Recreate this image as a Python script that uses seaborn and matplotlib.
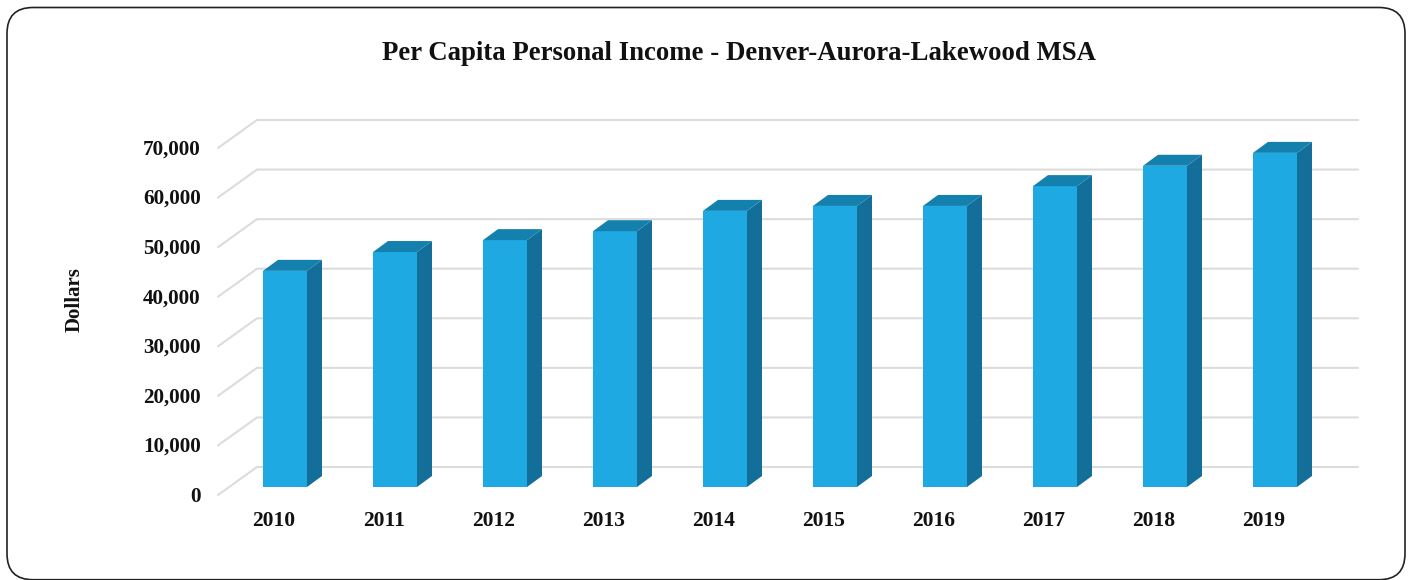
import matplotlib
matplotlib.use("Agg")
import matplotlib.pyplot as plt
import matplotlib.transforms as mtransforms
from matplotlib.patches import FancyBboxPatch, Polygon
import pandas as pd
import seaborn as sns

years = ["2010", "2011", "2012", "2013", "2014", "2015", "2016", "2017", "2018", "2019"]
income = [43600, 47400, 49800, 51600, 55700, 56700, 56700, 60700, 64800, 67400]
y_ticks = [0, 10000, 20000, 30000, 40000, 50000, 60000, 70000]

FRONT = "#1FA9E2"
SIDE = "#136F99"
TOP = "#1480AD"
GRID = "#DCDCDC"
TEXT = "#111111"
W, H = 1411, 580

sns.set_theme(style="white")
plt.rcParams["font.family"] = ["Liberation Serif", "DejaVu Serif"]
plt.rcParams["font.weight"] = "bold"

df = pd.DataFrame({"year": years, "income": income})

fig = plt.figure(figsize=(W / 100, H / 100), dpi=100, facecolor="white")

# rounded frame round the whole chart, bottom edge sits on the image border
frame = FancyBboxPatch((7, 0.3), 1398, H - 7.8, boxstyle="round,pad=0,rounding_size=26",
                       transform=mtransforms.IdentityTransform(), fc="white", ec="#222222", lw=1.2, zorder=0)
fig.add_artist(frame)

# axes = front plane of the 3d box
ax = fig.add_axes([230 / W, (H - 487) / H, 1100 / W, 347 / H])
ax.patch.set_alpha(0)
sns.barplot(data=df, x="year", y="income", color=FRONT, saturation=1, width=0.4, ax=ax, zorder=3,
            edgecolor="none", linewidth=0)
ax.set_xlim(-0.5, 9.5)
ax.set_ylim(0, 70000)
sns.despine(ax=ax, left=True, bottom=True)

# back wall gridlines, with the diagonal running to the front
for t in y_ticks:
    _, py = ax.transData.transform((0, t))
    pts = [(218, py - 8), (257, py + 20), (1358, py + 20)]
    ax.plot(*zip(*pts), color=GRID, lw=1.5, transform=mtransforms.IdentityTransform(),
            clip_on=False, zorder=1)

# side and top faces of each bar
dx, dy = 15, 11
for p in list(ax.patches):
    (x0, y0) = ax.transData.transform((p.get_x(), 0))
    (x1, y1) = ax.transData.transform((p.get_x() + p.get_width(), p.get_height()))
    side = Polygon([(x1, y0), (x1 + dx, y0 + dy), (x1 + dx, y1 + dy), (x1, y1)], fc=SIDE, ec="none",
                   transform=mtransforms.IdentityTransform(), clip_on=False, zorder=3)
    top = Polygon([(x0, y1), (x0 + dx, y1 + dy), (x1 + dx, y1 + dy), (x1, y1)], fc=TOP, ec="none",
                  transform=mtransforms.IdentityTransform(), clip_on=False, zorder=3)
    ax.add_patch(side)
    ax.add_patch(top)

ax.set_xlabel("")
ax.set_ylabel("Dollars", fontsize=15, fontweight="bold", color=TEXT, va="center")
ax.yaxis.set_label_coords((75 - 230) / 1100, (487 - 300) / 347)
ax.set_yticks(y_ticks)
ax.set_yticklabels([f"{t:,}" for t in y_ticks])
ax.tick_params(axis="y", length=0, pad=21, labelsize=15.2, labelcolor=TEXT)
ax.tick_params(axis="x", length=0, pad=17, labelsize=15.5, labelcolor=TEXT)
for lab in ax.get_yticklabels():
    lab.set_fontweight("bold")
    lab.set_transform(lab.get_transform() + mtransforms.Affine2D().translate(0, -7))
for lab in ax.get_xticklabels():
    lab.set_fontweight("bold")
    lab.set_transform(lab.get_transform() + mtransforms.Affine2D().translate(-11, 0))

fig.text(739.5 / W, 1 - 54 / H, "Per Capita Personal Income - Denver-Aurora-Lakewood MSA",
         ha="center", va="center", fontsize=19.3, fontweight="bold", color=TEXT)

fig.savefig("out.png", dpi=100)
